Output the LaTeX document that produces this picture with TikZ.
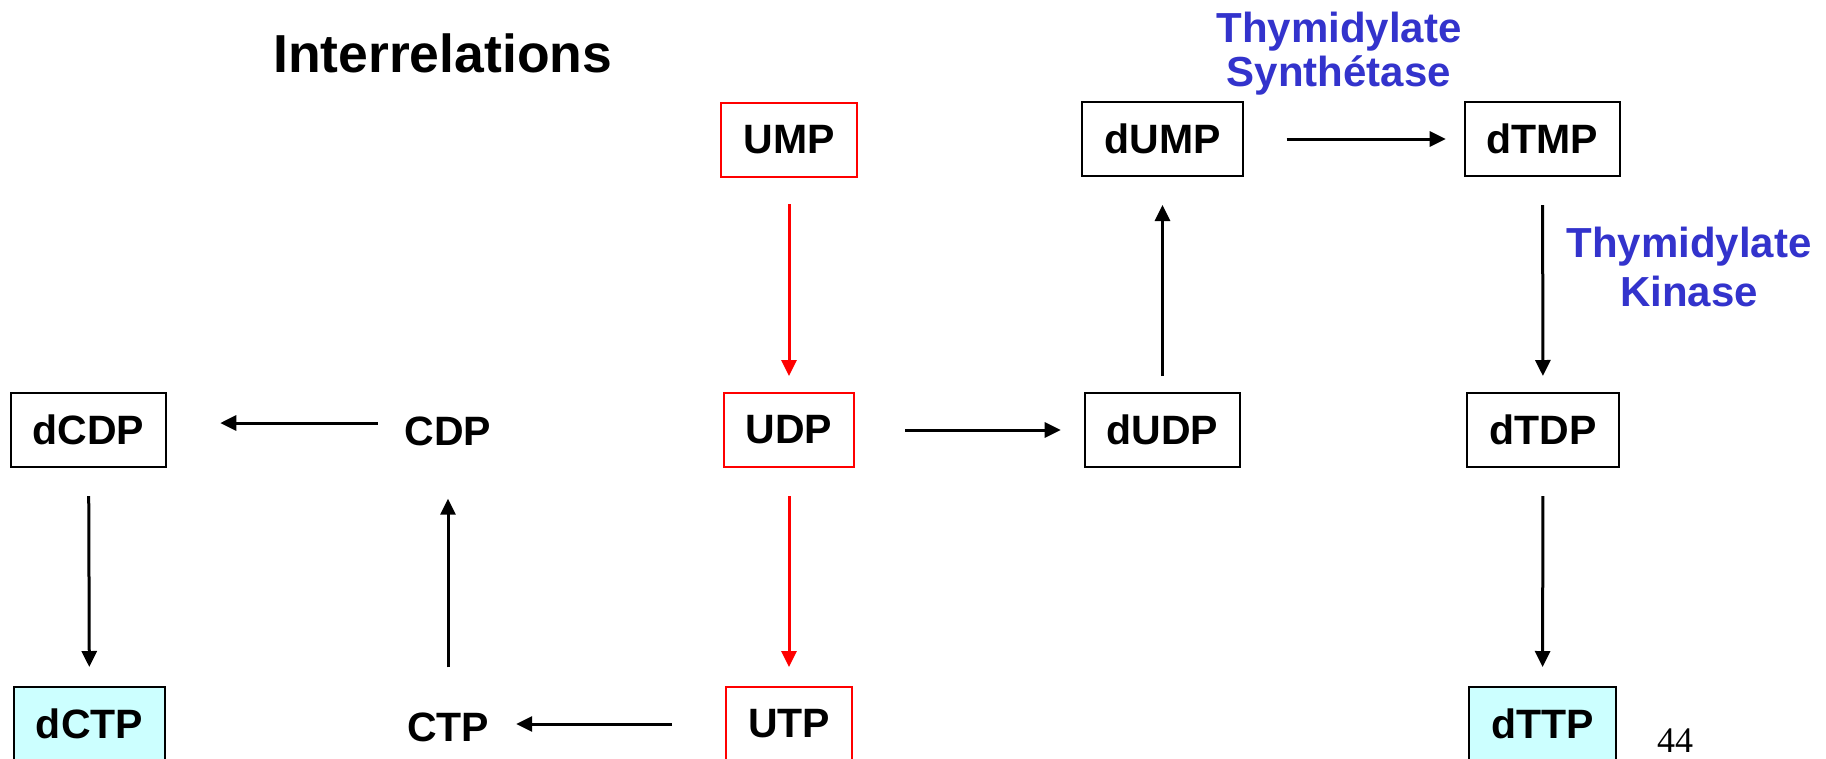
\documentclass[tikz,border=0pt]{standalone}
\usepackage{fontspec}
\setmainfont{Liberation Sans}
\newfontfamily\pageserif{Liberation Serif}
\usetikzlibrary{arrows.meta}
\definecolor{enzblue}{RGB}{51,51,204}
\definecolor{endcyan}{RGB}{204,255,255}
\definecolor{purered}{RGB}{255,0,0}
\begin{document}
\begin{tikzpicture}[x=1pt,y=-1pt,
  every node/.style={font=\fontsize{41}{44}\selectfont\bfseries},
  box/.style={draw=black, line width=2pt, minimum height=74pt, inner xsep=22pt, inner ysep=0pt, fill=white},
  redbox/.style={box, draw=purered},
  endbox/.style={box, fill=endcyan},
  plain/.style={inner sep=0pt},
  arr/.style={line width=3pt, -{Triangle[length=16pt,width=15pt]}},
  redarr/.style={arr, draw=purered, fill=purered},
  enzyme/.style={text=enzblue, align=center, inner sep=0pt}]
\useasboundingbox (0,0) rectangle (1826,758);
\fill[white] (0,0) rectangle (1826,758);

% title
\node[font=\fontsize{53.5}{60}\selectfont\bfseries, anchor=base west, inner sep=0pt] (title) at (273,72) {Interrelations};

% row 1
\node[redbox] (UMP) at (789,140) {UMP};
\node[box] (dUMP) at (1162.5,139) {dUMP};
\node[box] (dTMP) at (1542.5,139) {dTMP};
% row 2
\node[box] (dCDP) at (88.5,430) {dCDP};
\node[plain] (CDP) at (448,431) {CDP};
\node[redbox] (UDP) at (789,430) {UDP};
\node[box] (dUDP) at (1162.5,430) {dUDP};
\node[box] (dTDP) at (1543,430) {dTDP};
% row 3
\node[endbox] (dCTP) at (89.5,724) {dCTP};
\node[plain] (CTP) at (448,727) {CTP};
\node[redbox] (UTP) at (789,724) {UTP};
\node[endbox] (dTTP) at (1542.5,724) {dTTP};

% enzymes (anchor=base is the baseline of the last line)
\node[enzyme, anchor=base, font=\fontsize{42}{44}\selectfont\bfseries] (ts) at (1339,86) {Thymidylate\\Synthétase};
\node[enzyme, anchor=base, font=\fontsize{42}{49}\selectfont\bfseries] (tk) at (1689,306) {Thymidylate\\Kinase};

% page number
\node[font=\pageserif\fontsize{36}{40}\selectfont, anchor=base, inner sep=0pt] (pg) at (1675,752) {44};

% connectors
\draw[redarr, shorten <=26pt, shorten >=16pt] (UMP) -- (UDP);
\draw[redarr, shorten <=28pt, shorten >=19pt] (UDP) -- (UTP);
\draw[arr, shorten <=16pt, shorten >=28pt] (dUDP) -- (dUMP);
\draw[arr, shorten <=43pt, shorten >=18pt] (dUMP.east) -- (dUMP.east -| dTMP.west);
\draw[arr, shorten <=28pt, shorten >=16pt] (dTMP) -- (dTDP);
\draw[arr, shorten <=28pt, shorten >=19pt] (dTDP) -- (dTTP);
\draw[arr, shorten <=28pt, shorten >=19pt] (dCDP) -- (dCTP);
\draw[arr, shorten <=50pt, shorten >=23pt] (UDP.east) -- (UDP.east -| dUDP.west);
\draw[arr, shorten <=27pt, shorten >=53pt] ([yshift=8pt]CDP.west) -- ([yshift=8pt]CDP.west -| dCDP.east);
\draw[arr, shorten <=45pt, shorten >=53pt] (CTP.north) -- (CDP.south);
\draw[arr, shorten <=53pt, shorten >=27pt] (UTP.west) -- (UTP.west -| CTP.east);
\end{tikzpicture}
\end{document}
